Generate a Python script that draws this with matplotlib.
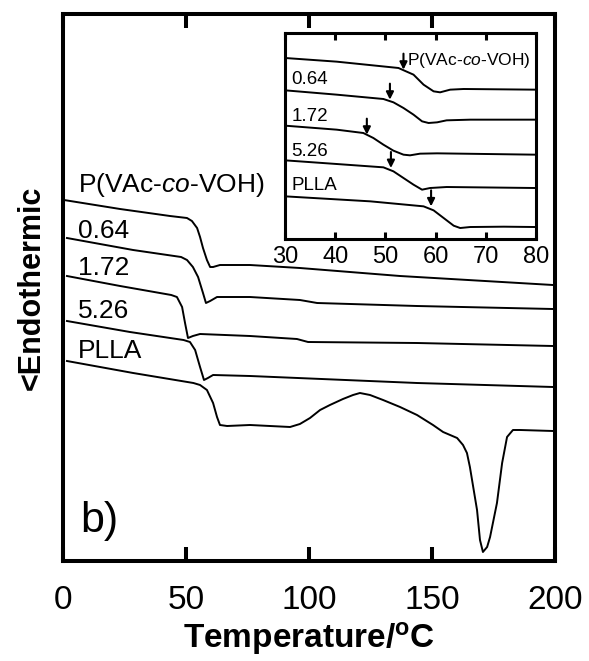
import numpy as np
import matplotlib
matplotlib.use("Agg")
import matplotlib.pyplot as plt

plt.rcParams['font.family'] = ['Liberation Sans', 'DejaVu Sans']
plt.rcParams['mathtext.fontset'] = 'custom'
plt.rcParams['mathtext.rm'] = 'Liberation Sans'
plt.rcParams['mathtext.it'] = 'Liberation Sans:italic'
plt.rcParams['mathtext.bf'] = 'Liberation Sans:bold'

# ---- main DSC traces (temperature in C, heat flow in a.u., curves offset) ----
T_pvac = [0.4, 23.2, 43.5, 50.4, 52.4, 54.5, 55.7, 56.9, 58.5, 59.8, 61.0, 63.8, 76.0, 96.3, 137.0, 199.2]
H_pvac = [36.1, 35.2, 34.5, 34.3, 34.0, 33.3, 32.4, 31.3, 30.1, 29.4, 29.4, 29.6, 29.6, 29.3, 28.5, 27.6]

T_064 = [1.6, 28.5, 48.0, 50.4, 52.8, 54.9, 56.9, 58.1, 59.8, 62.6, 76.0, 96.3, 103.3, 143.9, 199.2]
H_064 = [32.3, 31.1, 30.4, 30.1, 29.4, 28.4, 26.8, 25.8, 26.0, 26.4, 26.4, 26.1, 25.8, 25.5, 25.2]

T_172 = [1.6, 23.2, 44.0, 46.3, 48.4, 49.6, 50.8, 52.8, 55.7, 76.0, 95.1, 99.6, 143.9, 199.2]
H_172 = [28.5, 27.5, 26.6, 26.4, 25.4, 23.8, 22.3, 22.5, 22.7, 22.5, 22.2, 21.9, 21.8, 21.5]

T_526 = [1.6, 27.2, 49.0, 51.6, 53.7, 55.7, 57.3, 58.9, 61.0, 76.0, 143.9, 199.2]
H_526 = [24.0, 22.9, 22.1, 21.9, 21.1, 19.4, 18.1, 18.3, 18.6, 18.5, 17.8, 17.4]

T_plla = [1.6, 28.5, 53.0, 55.7, 58.5, 61.0, 62.6, 63.8, 66.7, 76.0, 84.1, 92.3, 96.3,
          100.4, 104.5, 108.5, 113.8, 117.9, 120.7, 124.8, 130.1, 137.0, 143.9, 150.4,
          154.5, 160.2, 162.6, 164.2, 165.4, 168.3, 169.5, 170.7, 172.4, 173.6, 176.4,
          178.5, 180.5, 182.9, 185.8, 199.2]
H_plla = [20.0, 18.8, 17.8, 17.6, 17.1, 15.8, 14.4, 13.6, 13.5, 13.6, 13.5, 13.4, 13.7,
          14.3, 15.1, 15.6, 16.2, 16.6, 16.8, 16.6, 16.1, 15.4, 14.6, 13.6,
          12.9, 12.3, 11.6, 10.8, 9.4, 5.1, 2.1, 0.9, 1.4, 2.4, 5.8,
          9.8, 12.4, 13.1, 13.1, 13.0]

main_labels = ['P(VAc-$\\it{co}$-VOH)', '0.64', '1.72', '5.26', 'PLLA']
main_label_y = [36.9, 32.3, 28.6, 24.3, 20.3]

# ---- inset (glass transition region) ----
Ti_pvac = [30, 40.3, 52.6, 55.6, 57.6, 59.6, 60.9, 62.9, 65.6, 79.9]
Hi_pvac = [54.3, 53.2, 51.3, 49.3, 46.3, 44.3, 44.0, 44.8, 45.0, 44.8]

Ti_064 = [30, 40.3, 49.6, 51.6, 53.6, 55.6, 57.3, 58.6, 60.3, 62.2, 66.9, 79.9]
Hi_064 = [44.6, 43.3, 42.0, 41.0, 39.3, 37.3, 35.3, 34.8, 35.0, 35.6, 35.8, 35.8]

Ti_172 = [30, 40.3, 45.6, 47.6, 49.6, 51.6, 53.6, 54.9, 56.9, 60.3, 79.9]
Hi_172 = [34.0, 32.8, 31.8, 30.3, 28.3, 26.5, 25.3, 25.1, 25.6, 25.7, 25.3]

Ti_526 = [30, 40.3, 49.6, 51.6, 53.6, 55.6, 57.3, 58.9, 62.2, 79.9]
Hi_526 = [23.6, 22.5, 21.5, 20.3, 18.3, 16.3, 14.8, 15.3, 15.6, 15.3]

Ti_plla = [30, 47.0, 57.6, 59.6, 61.6, 63.6, 64.9, 66.9, 73.6, 79.9]
Hi_plla = [12.8, 11.3, 9.8, 8.6, 6.3, 4.0, 3.3, 3.6, 3.7, 3.6]

# Tg onset arrows
tg_T = [53.6, 50.9, 46.3, 51.1, 59.1]
tg_H = [50.8, 41.8, 31.3, 21.3, 9.8]

inset_labels = ['0.64', '1.72', '5.26', 'PLLA']
inset_label_y = [46.5, 35.3, 24.8, 14.8]


fig = plt.figure(figsize=(5.89, 6.61), dpi=100)
ax = fig.add_axes([0.107, 0.1513, 0.8353, 0.8275])

for T, H in [(T_pvac, H_pvac), (T_064, H_064), (T_172, H_172), (T_526, H_526), (T_plla, H_plla)]:
    ax.plot(T, H, color='black', lw=1.4)

for lab, yy in zip(main_labels, main_label_y):
    ax.text(6.1, yy, lab, fontsize=19, va='baseline', ha='left')

ax.text(0.035, 0.053, 'b)', transform=ax.transAxes, fontsize=31, va='baseline')

ax.set_xlim(0, 200)
ax.set_ylim(0, 54.7)
ax.set_xticks([0, 50, 100, 150, 200])
ax.set_yticks([])
ax.tick_params(axis='x', direction='in', top=True, length=10, width=2.9,
               labelsize=24, pad=17)
for s in ax.spines.values():
    s.set_linewidth(2.9)
ax.set_xlabel('Temperature/$^{\\mathbf{o}}$C', fontsize=24, fontweight='bold', labelpad=3)
ax.set_ylabel('<Endothermic', fontsize=22, fontweight='bold', labelpad=12)

# inset
axi = fig.add_axes([0.4839, 0.6384, 0.4261, 0.3117])
for T, H in [(Ti_pvac, Hi_pvac), (Ti_064, Hi_064), (Ti_172, Hi_172), (Ti_526, Hi_526), (Ti_plla, Hi_plla)]:
    axi.plot(T, H, color='black', lw=1.4)

for t, h in zip(tg_T, tg_H):
    axi.annotate('', xy=(t, h), xytext=(t, h + 4.8),
                 arrowprops=dict(arrowstyle='-|>', color='black', lw=1.5,
                                 mutation_scale=11, shrinkA=0, shrinkB=0))

axi.text(54.3, 52.3, 'P(VAc-$\\it{co}$-VOH)', fontsize=12.5, va='baseline', ha='left')
for lab, yy in zip(inset_labels, inset_label_y):
    axi.text(31.3, yy, lab, fontsize=13.5, va='baseline', ha='left')

axi.set_xlim(30, 80)
axi.set_ylim(0, 61.8)
axi.set_xticks([30, 40, 50, 60, 70, 80])
axi.set_yticks([])
axi.tick_params(axis='x', direction='in', top=True, length=5, width=2.2,
                labelsize=17, pad=5)
for s in axi.spines.values():
    s.set_linewidth(2.2)

fig.savefig('out.png', dpi=100)
